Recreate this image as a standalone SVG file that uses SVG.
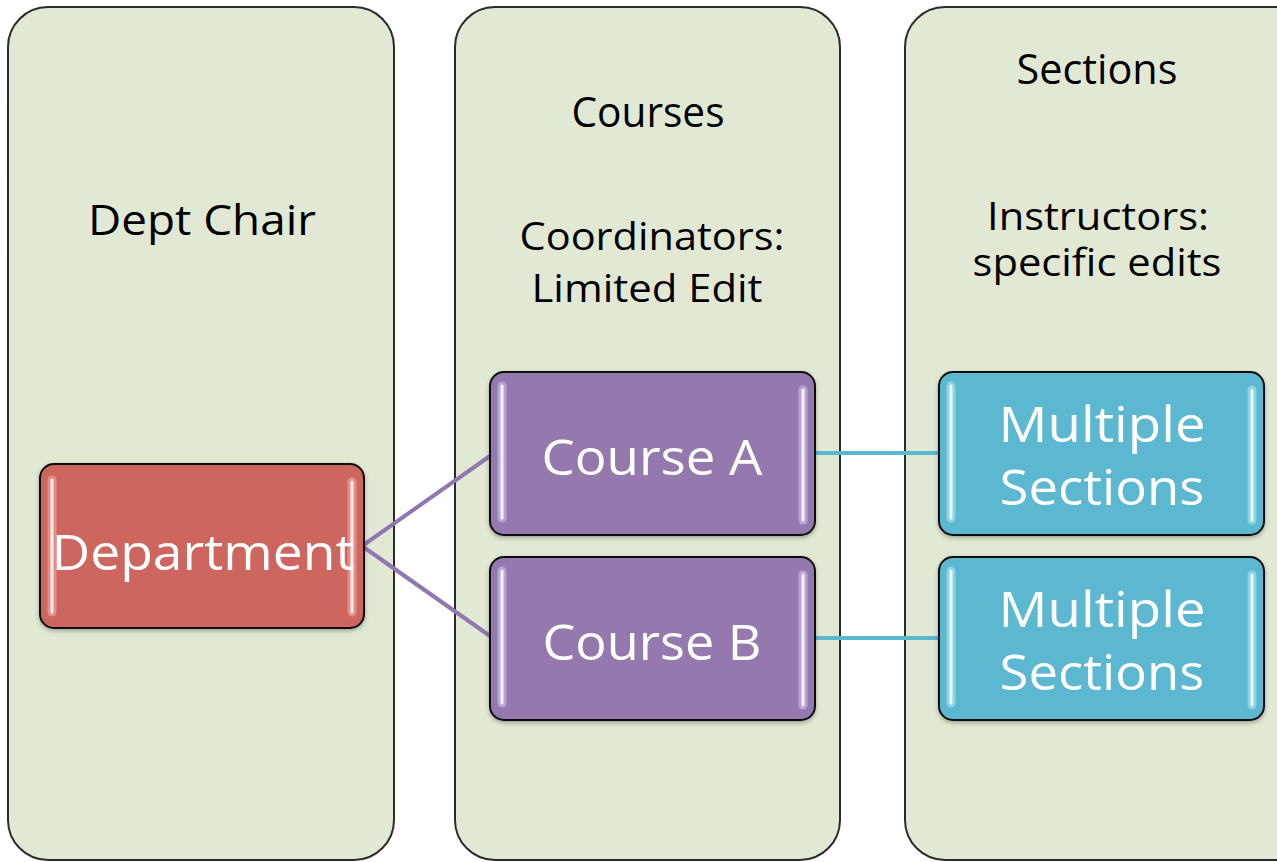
<svg xmlns="http://www.w3.org/2000/svg" width="1277" height="862" viewBox="0 0 1277 862">
<defs>
<style>
.panel{fill:#e1e9d5;stroke:#2b2b2b;stroke-width:2}
.hdr{font-family:"Open Sans","Liberation Sans",sans-serif;font-size:42px;fill:#000;text-anchor:middle}
.hdr2{font-family:"Open Sans","Liberation Sans",sans-serif;font-size:39px;fill:#000;text-anchor:middle}
.lbl{font-family:"Open Sans","Liberation Sans",sans-serif;font-size:50px;fill:#fff;text-anchor:middle}
.box{stroke:#111;stroke-width:2}
.hl{stroke:#fff;stroke-width:3;stroke-linecap:round;opacity:0.85}
.hlg{stroke-width:9;stroke-linecap:round;opacity:0.45}
.con{fill:none;stroke-width:4}
</style>
<filter id="sh" x="-10%" y="-10%" width="120%" height="130%">
<feDropShadow dx="0" dy="2" stdDeviation="2" flood-color="#000" flood-opacity="0.3"/>
</filter>
</defs>
<rect width="1277" height="862" fill="#fff"/>
<g id="panel-dept">
<rect class="panel" x="8" y="7" width="386" height="853" rx="40"/>
<text class="hdr" x="202" y="235" textLength="228" lengthAdjust="spacingAndGlyphs">Dept Chair</text>
</g>
<g id="panel-courses">
<rect class="panel" x="455" y="7" width="385" height="853" rx="40"/>
<text class="hdr" x="648" y="127" textLength="153" lengthAdjust="spacingAndGlyphs">Courses</text>
<text class="hdr2" x="652" y="250" textLength="265" lengthAdjust="spacingAndGlyphs">Coordinators:</text>
<text class="hdr2" x="647" y="302" textLength="231" lengthAdjust="spacingAndGlyphs">Limited Edit</text>
</g>
<g id="panel-sections">
<rect class="panel" x="905" y="7" width="410" height="853" rx="40"/>
<text class="hdr" x="1097" y="84" textLength="161" lengthAdjust="spacingAndGlyphs">Sections</text>
<text class="hdr2" x="1098" y="230" textLength="222" lengthAdjust="spacingAndGlyphs">Instructors:</text>
<text class="hdr2" x="1097" y="276" textLength="249" lengthAdjust="spacingAndGlyphs">specific edits</text>
</g>
<g id="connectors">
<path class="con" stroke="#8f78b0" d="M362 546 L490 456 M362 546 L490 636"/>
<path class="con" stroke="#5bb8d1" d="M815 453 L939 453 M815 638 L939 638"/>
</g>
<g id="node-department" filter="url(#sh)">
<rect class="box" x="40" y="464" width="324" height="164" rx="14" fill="#cd665f"/>
<line class="hlg" stroke="#ffc0bc" x1="52" y1="480" x2="52" y2="612"/>
<line class="hlg" stroke="#ffc0bc" x1="352" y1="482" x2="352" y2="612"/>
<line class="hl" x1="52" y1="480" x2="52" y2="612"/>
<line class="hl" x1="352" y1="482" x2="352" y2="612"/>
<text class="lbl" x="203" y="570" textLength="303" lengthAdjust="spacingAndGlyphs">Department</text>
</g>
<g id="node-course-a" filter="url(#sh)">
<rect class="box" x="490" y="372" width="325" height="163" rx="14" fill="#9479ae"/>
<line class="hlg" stroke="#e6d6ff" x1="502" y1="386" x2="502" y2="518"/>
<line class="hlg" stroke="#e6d6ff" x1="803" y1="390" x2="803" y2="520"/>
<line class="hl" x1="502" y1="386" x2="502" y2="518"/>
<line class="hl" x1="803" y1="390" x2="803" y2="520"/>
<text class="lbl" x="652" y="475" textLength="221" lengthAdjust="spacingAndGlyphs">Course A</text>
</g>
<g id="node-course-b" filter="url(#sh)">
<rect class="box" x="490" y="557" width="325" height="163" rx="14" fill="#9479ae"/>
<line class="hlg" stroke="#e6d6ff" x1="502" y1="571" x2="502" y2="703"/>
<line class="hlg" stroke="#e6d6ff" x1="803" y1="575" x2="803" y2="705"/>
<line class="hl" x1="502" y1="571" x2="502" y2="703"/>
<line class="hl" x1="803" y1="575" x2="803" y2="705"/>
<text class="lbl" x="652" y="660" textLength="219" lengthAdjust="spacingAndGlyphs">Course B</text>
</g>
<g id="node-sections-a" filter="url(#sh)">
<rect class="box" x="939" y="372" width="325" height="163" rx="14" fill="#5bb7d0"/>
<line class="hlg" stroke="#c8f6ff" x1="951" y1="386" x2="951" y2="518"/>
<line class="hlg" stroke="#c8f6ff" x1="1252" y1="390" x2="1252" y2="520"/>
<line class="hl" x1="951" y1="386" x2="951" y2="518"/>
<line class="hl" x1="1252" y1="390" x2="1252" y2="520"/>
<text class="lbl" x="1102" y="442" textLength="207" lengthAdjust="spacingAndGlyphs">Multiple</text>
<text class="lbl" x="1102" y="505" textLength="205" lengthAdjust="spacingAndGlyphs">Sections</text>
</g>
<g id="node-sections-b" filter="url(#sh)">
<rect class="box" x="939" y="557" width="325" height="163" rx="14" fill="#5bb7d0"/>
<line class="hlg" stroke="#c8f6ff" x1="951" y1="571" x2="951" y2="703"/>
<line class="hlg" stroke="#c8f6ff" x1="1252" y1="575" x2="1252" y2="705"/>
<line class="hl" x1="951" y1="571" x2="951" y2="703"/>
<line class="hl" x1="1252" y1="575" x2="1252" y2="705"/>
<text class="lbl" x="1102" y="627" textLength="207" lengthAdjust="spacingAndGlyphs">Multiple</text>
<text class="lbl" x="1102" y="690" textLength="205" lengthAdjust="spacingAndGlyphs">Sections</text>
</g>
</svg>
